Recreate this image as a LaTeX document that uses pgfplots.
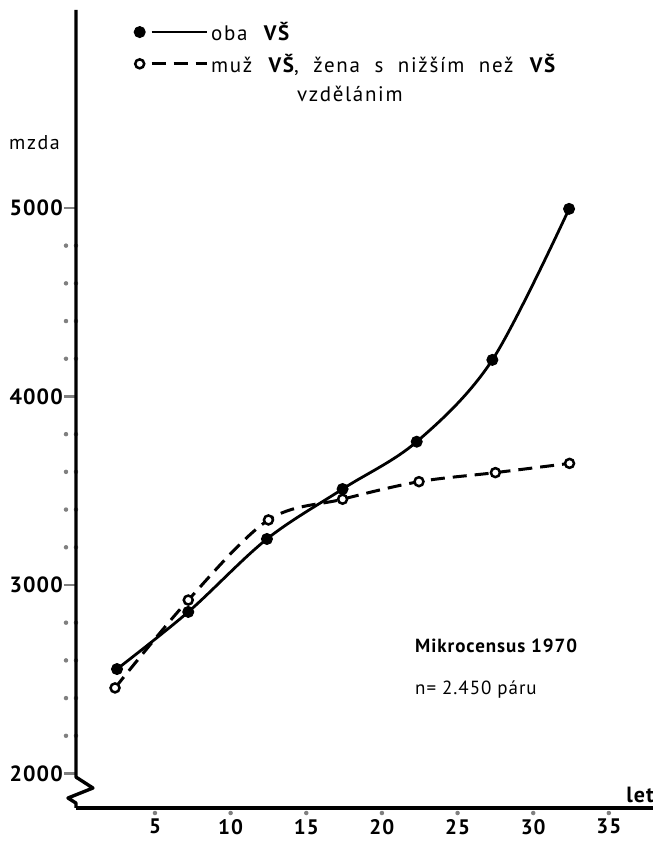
\documentclass[border=0pt]{standalone}
\usepackage{fontspec}
\setmainfont{PT Sans}
\newfontfamily\lsfont{PT Sans}[LetterSpace=8, WordSpace=2]
\newfontfamily\lbfont{PT Sans}[LetterSpace=5]
\usepackage{pgfplots}
\pgfplotsset{compat=1.18}

\begin{document}
\begin{tikzpicture}
\useasboundingbox (0,0) rectangle (653pt,841pt);
\begin{axis}[
  at={(76pt,33pt)}, anchor=south west,
  scale only axis, width=579pt, height=798pt,
  xmin=-0.22, xmax=38.05, ymin=1817, ymax=6050,
  axis x line*=bottom, axis y line*=left,
  y axis line style={draw=none},
  x axis line style={line width=3.4pt, -},
  clip=false,
  xtick={5,10,...,35},
  ytick={2000,3000,4000,5000},
  minor ytick={2200,2400,2600,2800,3200,3400,3600,3800,4200,4400,4600,4800},
  tick align=outside,
  major tick length=12pt, minor tick length=10pt,
  major y tick style={line width=2.4pt},
  major x tick style={line width=4.5pt, line cap=round, dash pattern=on 0pt off 100pt, dash phase=93pt},
  minor y tick style={line width=4.5pt, line cap=round, dash pattern=on 0pt off 10pt on 0pt off 100pt},
  /pgf/number format/assume math mode=true,
  /pgf/number format/1000 sep={},
  tick label style={font=\lbfont\fontsize{22}{24}\selectfont\bfseries},
  yticklabel style={inner xsep=1pt},
  xticklabel style={font=\lbfont\fontsize{21}{23}\selectfont\bfseries, inner ysep=0pt, yshift=1pt},
  legend style={draw=none, fill=none, at={(0.095,0.99)}, anchor=north west,
    font=\lsfont\fontsize{21}{23}\selectfont, row sep=8pt,
    nodes={inner xsep=3pt}},
  legend cell align=left,
  legend image code/.code={
    \draw[#1,mark=none] (12pt,0pt) -- (67pt,0pt);
    \draw[#1,mark repeat=2,mark phase=1] plot coordinates {(0pt,0pt) (0.01pt,0pt)};
  },
]
\draw[line width=3.4pt, line join=round]
  (axis cs:-0.22,6050) -- (axis cs:-0.22,1981) -- (axis cs:0.9,1923)
  -- (axis cs:-0.75,1870) -- (axis cs:-0.22,1843) -- (axis cs:-0.22,1817);

\addplot[black, line width=2.8pt, smooth, tension=0.55,
  mark=*, mark size=5.5pt, mark options={line width=1pt}]
  coordinates {(2.49,2554) (7.2,2857) (12.4,3244) (17.4,3509) (22.3,3760) (27.3,4194) (32.37,4995)};
\addlegendentry{oba \textbf{VŠ}\rule[-22pt]{0pt}{0pt}}

\addplot[black, line width=3pt, smooth, tension=0.55, dash pattern=on 14pt off 8pt,
  mark=*, mark size=4.5pt, mark options={fill=white, solid, line width=2.5pt}]
  coordinates {(2.36,2454) (7.2,2920) (12.5,3345) (17.4,3455) (22.45,3548) (27.5,3596) (32.4,3645)};
\addlegendentry{muž \textbf{VŠ}, žena  s nižším než \textbf{VŠ}}

\addlegendimage{empty legend}
\addlegendentry{\hspace*{86pt}vzdělánim}
\end{axis}

\node[anchor=base west, inner sep=0pt, font=\lsfont\fontsize{20}{22}\selectfont] at (9pt,691pt) {mzda};
\node[anchor=base east, inner sep=0pt, font=\lbfont\fontsize{22}{24}\selectfont\bfseries] at (654pt,38pt) {let};
\node[anchor=base west, inner sep=0pt, font=\lbfont\fontsize{19}{21}\selectfont\bfseries] at (415pt,188pt) {Mikrocensus 1970};
\node[anchor=base west, inner sep=0pt, font=\lbfont\fontsize{19}{21}\selectfont] at (415pt,146pt) {n= 2.450 páru};
\end{tikzpicture}
\end{document}
